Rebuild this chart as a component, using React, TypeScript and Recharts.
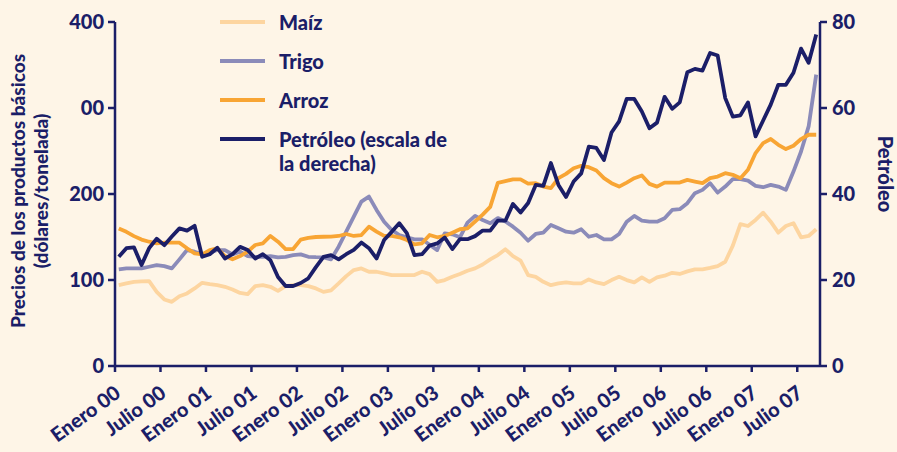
import { LineChart, Line, XAxis, YAxis, Legend } from "recharts";

const BG = "#fef5e7";
const NAVY = "#1b1e68";
const FONT = "Lato, 'Open Sans', sans-serif";
const WEIGHT = 900;

// ticks: one every six months from Enero 00
const X_TICK_LABELS = [
  "Enero 00", "Julio 00", "Enero 01", "Julio 01", "Enero 02", "Julio 02", "Enero 03", "Julio 03",
  "Enero 04", "Julio 04", "Enero 05", "Julio 05", "Enero 06", "Julio 06", "Enero 07", "Julio 07",
];
const LEFT_TICKS = [0, 100, 200, 300, 400];
const RIGHT_TICKS = [0, 20, 40, 60, 80];

// monthly values, Jan 2000 .. Sep 2007 (US$/t; petróleo in US$/barril)
const maiz = [
  94, 96, 97.9, 98.5, 98.7, 86.2, 77.4, 74.6, 81.2, 84.4, 90.2, 96.7,
  95.2, 94, 92.1, 89, 85, 83.6, 92.9, 94, 92.1, 87.4, 92.9, 94,
  94, 92.9, 90.2, 86.2, 88, 96, 104.5, 111.5, 113.5, 109.6, 109.6, 107.7,
  105.7, 105.7, 105.7, 105.7, 109.6, 106.9, 97.9, 99.9, 103.7, 106.9, 110.7, 113.5,
  118, 124, 129, 135.7, 127.8, 122.4, 105.7, 103.7, 97.9, 94, 96, 97.2,
  96, 96, 100.7, 97.2, 95.2, 99.9, 103.7, 99.9, 97.2, 103, 97.9, 103,
  105, 108.4, 107, 110, 112.4, 112.4, 114, 116.2, 121.2, 140, 165, 162.8,
  169.8, 178.3, 167.8, 155, 162.8, 166, 149.7, 151.2, 159,
];
const trigo = [
  112.4, 113.5, 113.5, 113.5, 115.4, 117.4, 116.2, 113.5, 124, 134.8, 132.9, 129.8,
  131.7, 134.8, 134.8, 129.8, 132.9, 127.8, 127, 127, 127.8, 126.3, 127, 129,
  129.8, 127, 126.5, 126.3, 124, 138.7, 156.2, 173.7, 191.1, 197, 181.5, 167.8,
  158.2, 152.3, 149.7, 147.3, 147.3, 141, 134.8, 154.3, 153.1, 149.7, 166.7, 174.5,
  169.8, 166, 172, 168, 162, 155, 145.7, 153.5, 155, 164, 160.1, 156.2,
  155, 159, 150.3, 152.3, 147.3, 147.3, 153.5, 167.8, 174.5, 169, 167.8, 167.8,
  171.8, 181.5, 182.3, 189.3, 201, 204.8, 212.6, 201.6, 208.6, 217.2, 217.2, 215.6,
  209.4, 207.9, 210.6, 208.6, 204.8, 226.1, 249.4, 278.6, 338.8,
];
const arroz = [
  160, 156, 151, 147, 144.5, 142.7, 143.4, 143.4, 143.4, 136.8, 131, 129.8,
  134.8, 136.8, 127.8, 124, 127.8, 132.9, 140.7, 142.7, 151.2, 144.5, 136, 136,
  147, 149, 150, 150.3, 150.5, 151.2, 153.5, 151.2, 152.3, 162, 156.2, 151.2,
  151.2, 149.7, 146.5, 141.5, 142.7, 152.3, 149.7, 151.2, 155, 159, 160, 168,
  176, 185, 213, 215, 217, 217, 212, 212.6, 208.6, 206.8, 218.4, 223.4,
  230, 232.8, 231.2, 227.3, 218.4, 212.6, 208.6, 213.3, 218.4, 221.5, 211.8, 208.6,
  213.3, 213.3, 213.3, 216.4, 214.5, 212.6, 218.4, 220.3, 224.2, 222.3, 218.4, 228.1,
  247.6, 259.2, 263.9, 257.2, 252.2, 256.1, 263.9, 268.9, 268.9,
];
const petroleo = [
  25.4, 27.4, 27.6, 23.5, 27.4, 29.6, 28.1, 30.1, 32, 31.5, 32.6, 25.4,
  26, 27.5, 25, 26, 27.7, 27, 25, 26, 24.6, 20.7, 18.6, 18.6,
  19.3, 20.4, 23, 25.4, 25.8, 24.8, 26, 27, 28.7, 27.4, 25, 29.3,
  31.2, 33.2, 30.9, 25.8, 26, 28, 28.5, 29.9, 27.2, 29.5, 29.5, 30.2,
  31.5, 31.5, 33.8, 33.8, 37.7, 35.7, 37.9, 42.1, 41.9, 47.2, 42.1, 39.3,
  42.9, 44.8, 51, 50.7, 47.9, 54.3, 56.9, 62.1, 62.1, 59.2, 55.3, 56.6,
  62.6, 59.8, 61.3, 68.3, 69.1, 68.7, 72.8, 72.2, 62.3, 58, 58.3, 61.3,
  53.4, 57.1, 60.8, 65.4, 65.4, 68.2, 73.8, 70.5, 77.1,
];

const SERIES = [
  { key: "maiz", name: "Maíz", color: "#fdd5a0", axis: "left" },
  { key: "trigo", name: "Trigo", color: "#8b8bb9", axis: "left" },
  { key: "arroz", name: "Arroz", color: "#f8a534", axis: "left" },
  { key: "petroleo", name: "Petróleo (escala de\nla derecha)", color: NAVY, axis: "right" },
];

// month value at mid-month
const rows = maiz.map((_, i) => ({
  t: i + 0.5,
  maiz: maiz[i],
  trigo: trigo[i],
  arroz: arroz[i],
  petroleo: petroleo[i],
}));

const tickStyle = { fontSize: 20, fontWeight: WEIGHT, fill: NAVY, fontFamily: FONT };

function XTick(props: any) {
  const { x, y, payload } = props;
  const ax = x + 7;
  const ay = y + 22;
  return (
    <text
      x={ax}
      y={ay}
      transform={`rotate(-36 ${ax} ${ay})`}
      textAnchor="end"
      fontSize={20}
      fontWeight={WEIGHT}
      fill={NAVY}
      fontFamily={FONT}
    >
      {X_TICK_LABELS[Math.round(payload.value / 6)]}
    </text>
  );
}

function LeftTitle() {
  return (
    <g fill={NAVY} fontFamily={FONT} fontWeight={WEIGHT} fontSize={19} textAnchor="middle">
      <text transform="translate(25 191) rotate(-90)">Precios de los productos básicos</text>
      <text transform="translate(48 191) rotate(-90)">(dólares/tonelada)</text>
    </g>
  );
}

function RightTitle() {
  return (
    <text
      transform="translate(878 174) rotate(90)"
      textAnchor="middle"
      fill={NAVY}
      fontFamily={FONT}
      fontWeight={WEIGHT}
      fontSize={20}
    >
      Petróleo
    </text>
  );
}

function LegendBox() {
  return (
    <div style={{ position: "relative", width: 320, height: 180, fontFamily: FONT }}>
      {SERIES.map((s, i) => (
        <div
          key={s.key}
          style={{ position: "absolute", left: 0, top: 10 + i * 39, display: "flex", alignItems: "flex-start" }}
        >
          <div style={{ width: 45, height: 4, background: s.color, marginTop: 10 }} />
          <div
            style={{
              marginLeft: 14,
              fontSize: 20,
              fontWeight: WEIGHT,
              color: NAVY,
              lineHeight: "24px",
              whiteSpace: "pre",
              textAlign: "left",
            }}
          >
            {s.name}
          </div>
        </div>
      ))}
    </div>
  );
}

export default function App() {
  return (
    <div style={{ width: 897, height: 452, background: BG, fontFamily: FONT }}>
      <style>{"body{margin:0}"}</style>
      <LineChart width={897} height={452} data={rows} margin={{ top: 22, right: 0, bottom: 0, left: 0 }}>
        <XAxis
          dataKey="t"
          type="number"
          domain={[0, 93]}
          ticks={X_TICK_LABELS.map((_, i) => i * 6)}
          interval={0}
          height={86}
          tick={<XTick />}
          tickSize={6}
          tickMargin={2}
          axisLine={{ stroke: NAVY, strokeWidth: 2.5 }}
          tickLine={{ stroke: NAVY, strokeWidth: 2.5 }}
        />
        <YAxis
          yAxisId="left"
          domain={[0, 400]}
          ticks={LEFT_TICKS}
          width={115}
          tick={tickStyle}
          tickFormatter={(v: number) => (v === 300 ? "00" : String(v))}
          tickSize={7}
          tickMargin={4}
          axisLine={{ stroke: NAVY, strokeWidth: 2.5 }}
          tickLine={{ stroke: NAVY, strokeWidth: 2.5 }}
          label={{ content: () => <LeftTitle /> }}
        />
        <YAxis
          yAxisId="right"
          orientation="right"
          domain={[0, 80]}
          ticks={RIGHT_TICKS}
          width={77}
          tick={tickStyle}
          tickSize={7}
          tickMargin={5}
          axisLine={{ stroke: NAVY, strokeWidth: 2.5 }}
          tickLine={{ stroke: NAVY, strokeWidth: 2.5 }}
          label={{ content: () => <RightTitle /> }}
        />
        <Legend
          layout="horizontal"
          verticalAlign="middle"
          align="center"
          wrapperStyle={{ left: 220, top: 0, width: 320 }}
          content={() => <LegendBox />}
        />
        {SERIES.map((s) => (
          <Line
            key={s.key}
            yAxisId={s.axis}
            dataKey={s.key}
            name={s.name}
            type="linear"
            stroke={s.color}
            strokeWidth={3.8}
            strokeLinejoin="round"
            dot={false}
            activeDot={false}
            isAnimationActive={false}
          />
        ))}
      </LineChart>
    </div>
  );
}
